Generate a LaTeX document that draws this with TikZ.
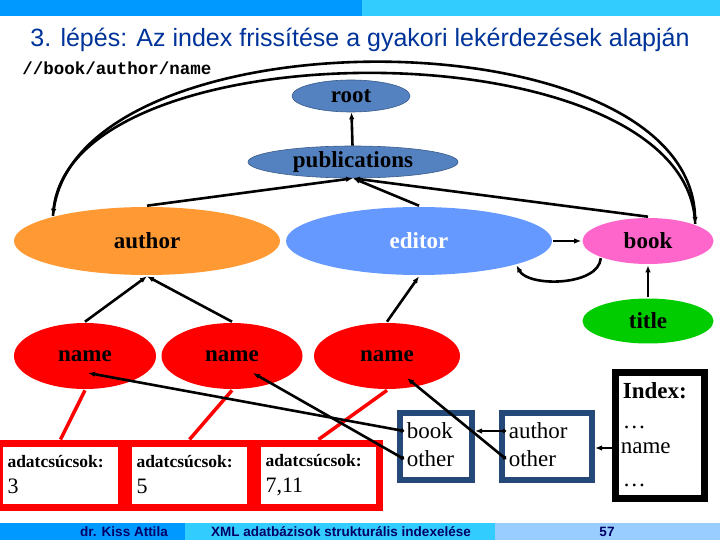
\documentclass[tikz,border=0pt]{standalone}
\usepackage{fontspec}
\setmainfont{Liberation Serif}
\setsansfont{Liberation Sans}
\setmonofont{Liberation Mono}
\usetikzlibrary{arrows.meta, positioning, shapes.geometric}
\definecolor{barblue}{RGB}{0,153,255}
\definecolor{barcyan}{RGB}{51,204,255}
\definecolor{barlight}{RGB}{153,204,255}
\definecolor{headblue}{RGB}{0,51,153}
\definecolor{footnavy}{RGB}{0,0,102}
\definecolor{treeblue}{RGB}{84,130,193}
\definecolor{authorange}{RGB}{255,153,51}
\definecolor{editblue}{RGB}{102,153,255}
\definecolor{bookpink}{RGB}{255,102,204}
\definecolor{titlegreen}{RGB}{0,204,0}
\definecolor{boxblue}{RGB}{36,72,120}

\begin{document}
\begin{tikzpicture}[x=1pt, y=-1pt, >={Latex[length=7pt,width=5.5pt]}, line width=2.6pt,
  ell/.style={ellipse, inner sep=0pt, font=\fontsize{23}{26}\selectfont\bfseries},
  redbox/.style={draw=red, line width=7pt, fill=white, minimum width=122pt, minimum height=64pt, inner sep=0pt, text width=106pt, align=left, font=\fontsize{22}{26}\selectfont},
  bluebox/.style={draw=boxblue, line width=6pt, minimum height=67pt},
  txt/.style={inner sep=1.5pt, font=\fontsize{23}{26}\selectfont},
  foot/.style={text=footnavy, font=\sffamily\bfseries\fontsize{13.5}{15}\selectfont},
  ptr/.style={{Circle[length=4pt]}->},
  redline/.style={draw=red, line width=3.5pt}]
  \useasboundingbox (0,0) rectangle (720,540);
  % bars
  \fill[barblue] (0,0) rectangle (362,16);
  \fill[barcyan] (362,0) rectangle (720,16);
  \fill[barblue] (0,523) rectangle (185,540);
  \fill[barcyan] (185,523) rectangle (495,540);
  \fill[barlight] (495,523) rectangle (720,540);
  \node[foot] (fauthor) at (124,531.5) {dr. Kiss Attila};
  \node[foot] (fcourse) at (341,531.5) {XML adatbázisok strukturális indexelése};
  \node[foot] (fpage) at (607,531.5) {57};

  \node[text=headblue, font=\sffamily\fontsize{25}{28}\selectfont] (head) at (360,40) {3. lépés: Az index frissítése a gyakori lekérdezések alapján};
  \node[anchor=west, inner sep=0pt, font=\ttfamily\bfseries\fontsize{17.5}{20}\selectfont] (query) at (21,68) {//book/author/name};

  % tree
  \node[ell, fill=treeblue, draw=treeblue!70!black, line width=0.6pt, minimum width=118pt, minimum height=32pt] (root) at (351,96) {root};
  \node[ell, fill=treeblue, draw=treeblue!70!black, line width=0.6pt, minimum width=210pt, minimum height=32pt] (pub) at (353,162) {publications};
  \node[ell, fill=authorange, minimum width=266pt, minimum height=68pt] (author) at (147,241) {author};
  \node[ell, fill=editblue, text=white, minimum width=266pt, minimum height=68pt] (editor) at (419,241) {editor};
  \node[ell, fill=bookpink, minimum width=131pt, minimum height=46pt] (book) at (648,241) {book};
  \node[ell, fill=titlegreen, minimum width=131pt, minimum height=45pt] (title) at (648,321) {title};
  \node[ell, fill=red, minimum width=142pt, minimum height=66pt] (n1) at (85,356) {name};
  \node[ell, fill=red, minimum width=141pt, minimum height=66pt] (n2) at (232,356) {name};
  \node[ell, fill=red, minimum width=146pt, minimum height=66pt] (n3) at (387,356) {name};

  \draw[->] (pub) -- (root);
  \draw[->] (author.north) -- (pub.south);
  \draw[->] (editor.north) -- (pub.south);
  \draw[->] (book.north) -- (pub.south);
  \draw[->] (editor.east) -- (book.west);
  \draw[->] (title.north) -- (book.south);
  \draw[->] (book.200) .. controls +(-2,28) and +(12,22) .. (editor.346);
  \draw[->] (n1.north) -- (author.south);
  \draw[->] (n2.north) -- (author.south);
  \draw[->] (n3.north) -- (editor.south);
  \draw[->] (author.165) .. controls (70,10) and (690,10) .. (book.20);
  \draw[->] (book.20) .. controls (688,25) and (72,25) .. (author.165);

  % data nodes
  \node[redbox] (box1) at (60.5,475) {{\bfseries\fontsize{17.5}{20}\selectfont adatcsúcsok:}\\3};
  \node[redbox, right=0pt of box1] (box2) {{\bfseries\fontsize{17.5}{20}\selectfont adatcsúcsok:}\\5};
  \node[redbox, right=0pt of box2] (box3) {{\bfseries\fontsize{17.5}{20}\selectfont adatcsúcsok:}\\7,11};
  \draw[redline] (n1.south) -- (box1.north);
  \draw[redline] (n2.south) -- (box2.north);
  \draw[redline] (n3.south) -- (box3.north);

  % index
  \node[bluebox, minimum width=72pt] (bkbox) at (436,446.5) {};
  \node[bluebox, minimum width=90pt] (aubox) at (547,446.5) {};
  \node[draw=black, line width=7pt, minimum width=89pt, minimum height=126pt] (ibox) at (660,435.5) {};
  \node[txt, anchor=west] (bk) at (404,431) {book};
  \node[txt, anchor=west] (bo) at (404,459) {other};
  \node[txt, anchor=west] (au) at (506,431) {author};
  \node[txt, anchor=west] (ao) at (506,459) {other};
  \node[txt, anchor=base west, font=\fontsize{23}{26}\selectfont\bfseries] (idx) at (620,398) {Index:};
  \node[txt, anchor=base west] (dots1) at (620,428) {…};
  \node[txt, anchor=west] (nm) at (618,448) {name};
  \node[txt, anchor=base west] (dots2) at (620,486) {…};

  \draw[ptr] (bk.west) -- ([shift={(3,17)}]n1.center);
  \draw[ptr] (bo.west) -- ([shift={(21,17)}]n2.center);
  \draw[ptr] (ao.west) -- ([shift={(20,22)}]n3.center);
  \draw[ptr] (au.west) -- (bkbox.east |- au.west);
  \draw[ptr] (nm.west) -- (aubox.east |- nm.west);
\end{tikzpicture}
\end{document}
